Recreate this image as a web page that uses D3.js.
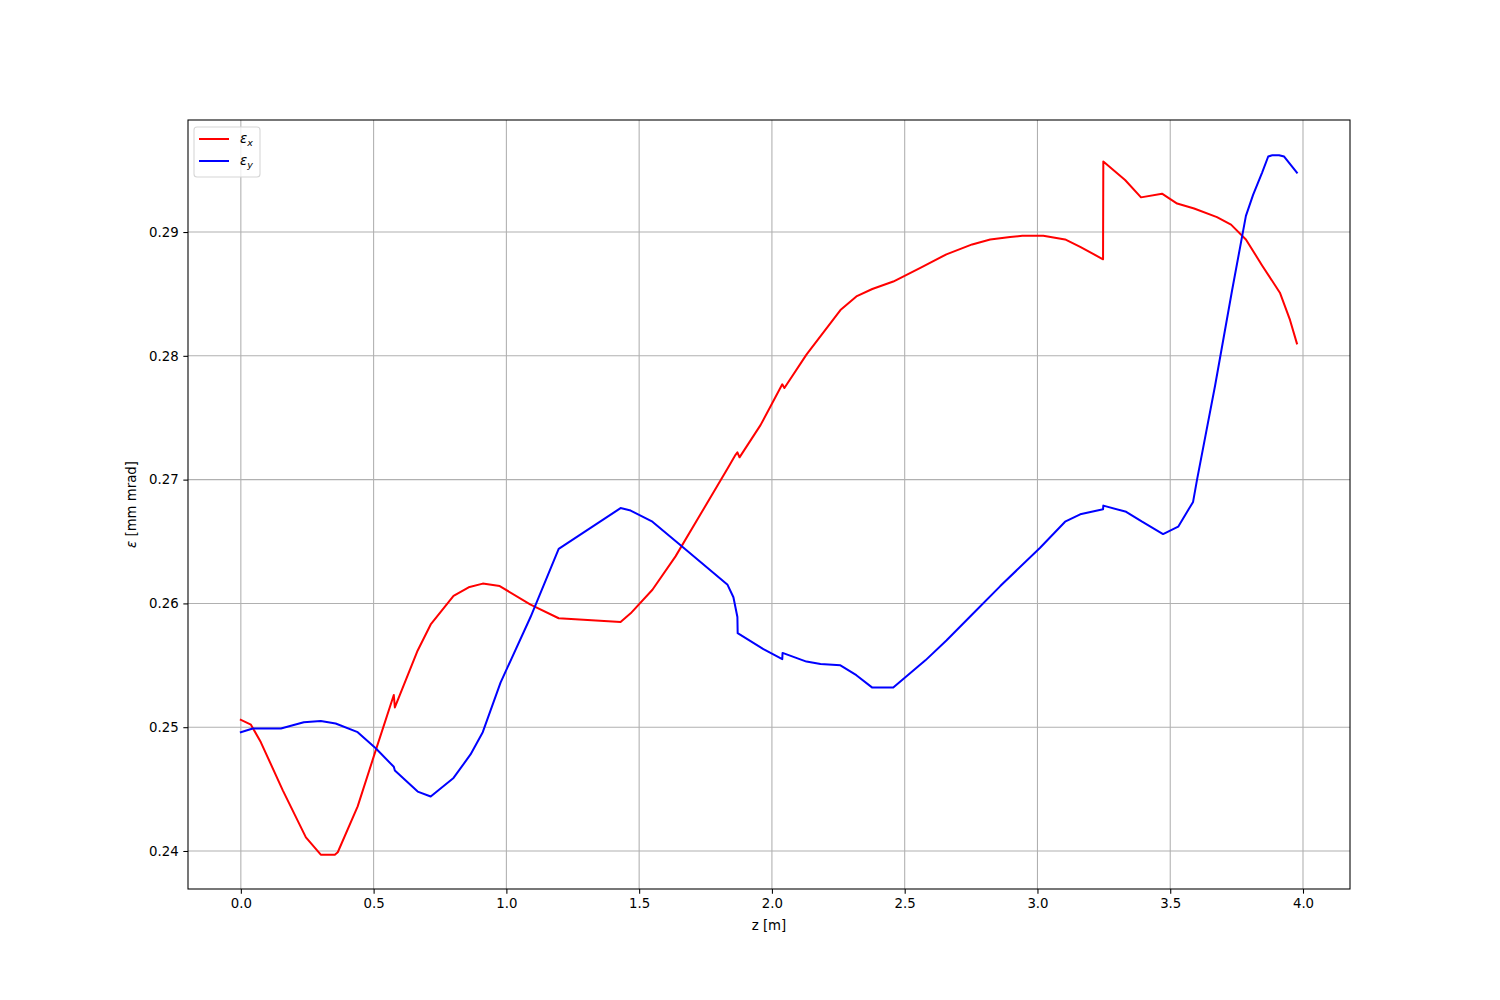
<!DOCTYPE html>
<html><head><meta charset="utf-8">
<script src="https://cdn.jsdelivr.net/npm/d3@7"></script>
<style>body{margin:0;background:#fff}svg{display:block}text{font-family:"DejaVu Sans",sans-serif}</style>
</head><body>
<svg id="c" width="1500" height="1000"></svg>
<script>
const exZ = [0,0.038,0.075,0.158,0.245,0.301,0.354,0.365,0.440,0.500,0.576,0.580,0.666,0.715,0.801,0.858,0.911,0.975,1.091,1.197,1.430,1.468,1.550,1.637,1.731,1.833,1.863,1.870,1.878,1.957,2.039,2.047,2.130,2.258,2.318,2.378,2.457,2.559,2.657,2.754,2.822,2.897,2.943,3.022,3.104,3.161,3.247,3.248,3.330,3.390,3.469,3.526,3.590,3.676,3.729,3.785,3.846,3.913,3.951,3.977];
const exV = [0.2506,0.2502,0.2488,0.2449,0.2411,0.2397,0.2397,0.2399,0.2436,0.2476,0.2526,0.2516,0.2562,0.2583,0.2606,0.2613,0.2616,0.2614,0.2599,0.2588,0.2585,0.2592,0.2611,0.2638,0.2672,0.2709,0.2720,0.2722,0.2718,0.2744,0.2777,0.2774,0.2801,0.2837,0.2848,0.2854,0.2860,0.2871,0.2882,0.2890,0.2894,0.2896,0.2897,0.2897,0.2894,0.2888,0.2878,0.2957,0.2942,0.2928,0.2931,0.2923,0.2919,0.2912,0.2906,0.2894,0.2873,0.2851,0.2829,0.2810];
const eyZ = [0,0.045,0.151,0.237,0.301,0.357,0.440,0.508,0.576,0.580,0.666,0.715,0.801,0.865,0.911,0.978,1.091,1.197,1.430,1.468,1.550,1.656,1.833,1.855,1.870,1.871,1.968,2.039,2.040,2.130,2.183,2.258,2.318,2.378,2.457,2.578,2.657,2.754,2.860,3.010,3.104,3.161,3.247,3.248,3.334,3.394,3.473,3.530,3.586,3.601,3.669,3.733,3.785,3.812,3.846,3.869,3.884,3.910,3.929,3.977];
const eyV = [0.2496,0.2499,0.2499,0.2504,0.2505,0.2503,0.2496,0.2483,0.2468,0.2465,0.2448,0.2444,0.2459,0.2478,0.2496,0.2536,0.2589,0.2644,0.2677,0.2675,0.2666,0.2647,0.2615,0.2605,0.2589,0.2576,0.2563,0.2555,0.2560,0.2553,0.2551,0.2550,0.2542,0.2532,0.2532,0.2554,0.2570,0.2591,0.2614,0.2645,0.2666,0.2672,0.2676,0.2679,0.2674,0.2666,0.2656,0.2662,0.2682,0.2700,0.2776,0.2853,0.2913,0.2930,0.2948,0.2961,0.2962,0.2962,0.2961,0.2948];
const xTicks = [0,0.5,1,1.5,2,2.5,3,3.5,4];
const yTicks = [0.24,0.25,0.26,0.27,0.28,0.29];
const series = [
  {z: exZ, v: exV, color: "red", sub: "x"},
  {z: eyZ, v: eyV, color: "blue", sub: "y"}
];

const L = 188, R = 1350, T = 120, B = 889;
const svg = d3.select("#c");
const x = d3.scaleLinear().domain([-0.199, 4.177]).range([L, R]);
const y = d3.scaleLinear().domain([0.23693, 0.29905]).range([B, T]);

// grid
const g = svg.append("g");
g.selectAll(".gx").data(xTicks).enter().append("line")
  .attr("x1", d => x(d)).attr("x2", d => x(d)).attr("y1", T).attr("y2", B)
  .attr("stroke", "#b0b0b0").attr("stroke-width", 1.07);
g.selectAll(".gy").data(yTicks).enter().append("line")
  .attr("y1", d => y(d)).attr("y2", d => y(d)).attr("x1", L).attr("x2", R)
  .attr("stroke", "#b0b0b0").attr("stroke-width", 1.07);

// lines
const line = d3.line().x(d => x(d[0])).y(d => y(d[1]));
series.forEach(s => {
  svg.append("path").datum(s.z.map((z, i) => [z, s.v[i]]))
    .attr("d", line).attr("fill", "none").attr("stroke", s.color)
    .attr("stroke-width", 2).attr("stroke-linejoin", "round").attr("stroke-linecap", "square");
});

// axes
const xAxis = d3.axisBottom(x).tickValues(xTicks).tickFormat(d3.format(".1f")).tickSize(4.67).tickPadding(4.7);
const yAxis = d3.axisLeft(y).tickValues(yTicks).tickFormat(d3.format(".2f")).tickSize(4.67).tickPadding(4.7);
const gx = svg.append("g").attr("transform", `translate(0,${B})`).call(xAxis);
const gy = svg.append("g").attr("transform", `translate(${L},0)`).call(yAxis);
[gx, gy].forEach(a => {
  a.select(".domain").remove();
  a.selectAll("text").attr("font-size", 13.3).attr("fill", "#000").attr("font-family", "DejaVu Sans");
  a.selectAll("line").attr("stroke", "#000").attr("stroke-width", 1.07);
});
svg.append("rect").attr("x", L).attr("y", T).attr("width", R - L).attr("height", B - T)
  .attr("fill", "none").attr("stroke", "#000").attr("stroke-width", 1.07);

// labels
svg.append("text").attr("x", (L + R) / 2).attr("y", 930).attr("text-anchor", "middle")
  .attr("font-size", 13.3).text("z [m]");
const yl = svg.append("text").attr("transform", `translate(136,${(T + B) / 2}) rotate(-90)`)
  .attr("text-anchor", "middle").attr("font-size", 13.3);
yl.append("tspan").attr("font-style", "italic").text("ε");
yl.append("tspan").text(" [mm mrad]");

// legend
const lg = svg.append("g");
lg.append("rect").attr("x", 194).attr("y", 127).attr("width", 66).attr("height", 50)
  .attr("rx", 3).attr("fill", "#fff").attr("fill-opacity", 0.8).attr("stroke", "#d6d6d6").attr("stroke-width", 1.07);
series.forEach((s, i) => {
  const cy = 139 + i * 22;
  lg.append("line").attr("x1", 199).attr("x2", 229).attr("y1", cy).attr("y2", cy)
    .attr("stroke", s.color).attr("stroke-width", 2);
  const t = lg.append("text").attr("x", 240).attr("y", cy + 4).attr("font-size", 13.3);
  t.append("tspan").attr("font-style", "italic").text("ε");
  t.append("tspan").attr("font-style", "italic").attr("font-size", 9.5).attr("dy", 3).text(s.sub);
});
</script>
</body></html>
